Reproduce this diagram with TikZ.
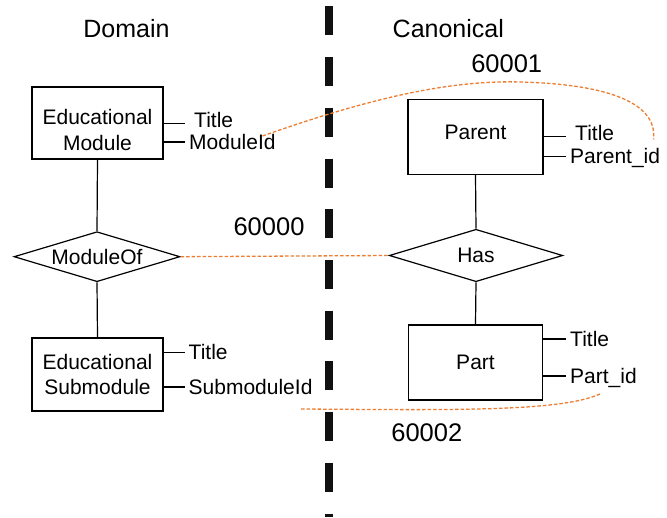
\documentclass[tikz,border=0pt]{standalone}
\usepackage{fontspec}
\setmainfont{Liberation Sans}
\usepackage{tikz}
\usetikzlibrary{shapes.geometric}

\definecolor{linkorange}{RGB}{237,125,49}
\definecolor{divider}{RGB}{17,17,17}

\tikzset{
  entity/.style={draw, line width=1.2pt, minimum width=131pt, minimum height=72pt, inner sep=0pt, align=center},
  relation/.style={draw, diamond, line width=1.2pt, aspect=3.3, inner sep=0pt},
  attr/.style={anchor=west, inner xsep=4pt, inner ysep=0pt, text height=15pt, text depth=0pt},
  topattr/.style={attr, inner xsep=9pt, text depth=7.4pt},
  link/.style={linkorange, line width=1.3pt, dash pattern=on 3.5pt off 2pt},
  heading/.style={font=\fontsize{25}{30}\selectfont},
  linkid/.style={font=\fontsize{25.5}{30}\selectfont}
}

\begin{document}
\begin{tikzpicture}[x=1pt, y=-1pt, font=\fontsize{21}{25.7}\selectfont]
\useasboundingbox (0,0) rectangle (667,518);

% Divider
\draw [divider, line width=7.5pt, dash pattern=on 29pt off 21.7pt] (329,6.5) -- (329,517);

% Headings
\node [heading] (domain) at (126.4,29) {Domain};
\node [heading] (canonical) at (448.3,28.8) {Canonical};

% Domain side
\node [entity, text height=55.4pt, text depth=0pt] (edmod) at (97.5,123) {Educational\\Module};
\node [topattr] (edmodtitle) at (185,123.3) {Title};
\node [attr] (edmodid) at (185,142) {ModuleId};

\node [relation, minimum width=166pt, minimum height=50pt] (moduleof) at (97,256.7) {ModuleOf};

\node [entity, minimum height=73pt] (edsub) at (97.5,374.5) {Educational\\Submodule};
\node [attr] (edsubtitle) at (184.5,352.4) {Title};
\node [attr] (edsubid) at (184.5,387) {SubmoduleId};

\draw [line width=1.2pt] (edmod.south) -- (moduleof.north);
\draw [line width=1.2pt] (moduleof.south) -- (edsub.north);
\draw [line width=1.2pt] (edmod.east |- edmodtitle.west) -- (edmodtitle.west);
\draw [line width=1.2pt] (edmod.east |- edmodid.west) -- (edmodid.west);
\draw [line width=1.2pt] (edsub.east |- edsubtitle.west) -- (edsubtitle.west);
\draw [line width=1.2pt] (edsub.east |- edsubid.west) -- (edsubid.west);

% Canonical side
\node [entity, minimum width=135pt, minimum height=75pt, text depth=10pt] (parent) at (475.5,136.8) {Parent};
\node [topattr] (parenttitle) at (566,136.7) {Title};
\node [attr] (parentid) at (566,156.5) {Parent\_id};

\node [relation, minimum width=173.4pt, minimum height=52.4pt] (has) at (476,255.5) {Has};

\node [entity, minimum width=134.4pt, minimum height=75pt] (part) at (475.5,362.5) {Part};
\node [attr] (parttitle) at (566,339) {Title};
\node [attr] (partid) at (566,376) {Part\_id};

\draw [line width=1.2pt] (parent.south) -- (has.north);
\draw [line width=1.2pt] (has.south) -- (part.north);
\draw [line width=1.2pt] (parent.east |- parenttitle.west) -- (parenttitle.west);
\draw [line width=1.2pt] (parent.east |- parentid.west) -- (parentid.west);
\draw [line width=1.2pt] (part.east |- parttitle.west) -- (parttitle.west);
\draw [line width=1.2pt] (part.east |- partid.west) -- (partid.west);

% Mappings
\coordinate (modidend) at (262.5,136);
\coordinate (parentidend) at (653.5,139.5);
\coordinate (partidend) at (600,394);
\coordinate (subidend) at (300,409);

\draw [link] (modidend) .. controls (370,98) and (450,80) .. (520,82)
  .. controls (600,84) and (658,100) .. (parentidend);
\draw [link] (moduleof.east) -- (has.west);
\draw [link] (partidend) .. controls (560,412) and (450,410) .. (subidend);

\node [linkid] (id60001) at (506.7,64.2) {60001};
\node [linkid] (id60000) at (269,227) {60000};
\node [linkid] (id60002) at (426.8,433) {60002};

\end{tikzpicture}
\end{document}
